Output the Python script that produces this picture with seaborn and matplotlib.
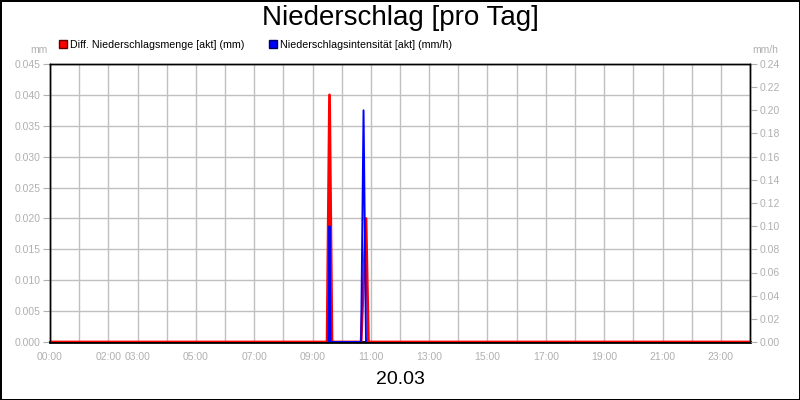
import pandas as pd
import seaborn as sns
import matplotlib
matplotlib.use("Agg")
import matplotlib.pyplot as plt
from matplotlib import font_manager
from matplotlib.lines import Line2D

# Diff. Niederschlagsmenge (mm), non-zero points plus the zeros around them
menge_times = ["00:00", "09:30", "09:35", "09:40", "10:40", "10:50", "10:55", "24:00"]
menge_vals = [0.0, 0.0, 0.040, 0.0, 0.0, 0.020, 0.0, 0.0]

# Niederschlagsintensitaet (mm/h), only around the two showers
int_times = ["09:33", "09:35", "09:37", "10:40", "10:45", "10:50"]
int_vals = [0.0, 0.10, 0.0, 0.0, 0.20, 0.0]

tick_hours = [0, 2, 3, 5, 7, 9, 11, 13, 15, 17, 19, 21, 23]
tick_labels = ["00:00", "02:00", "03:00", "05:00", "07:00", "09:00", "11:00",
               "13:00", "15:00", "17:00", "19:00", "21:00", "23:00"]
left_ticks = [0.000, 0.005, 0.010, 0.015, 0.020, 0.025, 0.030, 0.035, 0.040, 0.045]
right_ticks = [0.00, 0.02, 0.04, 0.06, 0.08, 0.10, 0.12, 0.14, 0.16, 0.18, 0.20, 0.22, 0.24]


def to_hours(times):
    return [pd.to_timedelta(t + ":00") / pd.Timedelta(hours=1) for t in times]


menge = pd.DataFrame({"h": to_hours(menge_times), "v": menge_vals})
intens = pd.DataFrame({"h": to_hours(int_times), "v": int_vals})

sns.set_style("white")
names = {f.name for f in font_manager.fontManager.ttflist}
narrow = "Liberation Sans Narrow" if "Liberation Sans Narrow" in names else "Liberation Sans"
plt.rcParams["font.family"] = [narrow, "DejaVu Sans"]
plt.rcParams["text.color"] = "black"

grey = "#b0b0b0"
gridc = "#c0c0c0"

fig = plt.figure(figsize=(8, 4), dpi=100)
fig.patch.set_edgecolor("black")
fig.patch.set_linewidth(2)

ax = fig.add_axes([0.0625, 0.145, 0.875, 0.695])
ax2 = ax.twinx()

sns.lineplot(data=menge, x="h", y="v", ax=ax, color="#ff0000", linewidth=2.0, zorder=3)
sns.lineplot(data=intens, x="h", y="v", ax=ax2, color="#0000ff", linewidth=1.4)

ax.set_xlim(0, 24)
ax.set_ylim(0, 0.045)
ax2.set_ylim(0, 0.24)
ax.set_xticks(range(25), minor=True)
ax.set_xticks(tick_hours)
ax.set_xticklabels(tick_labels)
ax.set_yticks(left_ticks)
ax.set_yticklabels([f"{v:.3f}" for v in left_ticks])
ax2.set_yticks(right_ticks)
ax2.set_yticklabels([f"{v:.2f}" for v in right_ticks])

ax2.grid(False)
ax.grid(True, which="both", color=gridc, linewidth=1)
ax.set_axisbelow(True)
ax.tick_params(axis="x", which="both", colors=grey, length=4, labelsize=7.5, pad=3)
ax.tick_params(axis="y", colors=grey, length=5, labelsize=7.5, pad=2)
ax2.tick_params(axis="y", colors=grey, length=5, labelsize=7.5, pad=2)
ax.set_xlabel("20.03", fontsize=14, color="black", labelpad=7)
ax.set_ylabel("")
ax2.set_ylabel("")
for a in (ax, ax2):
    for s in a.spines.values():
        s.set_color("black")
        s.set_linewidth(1)
ax.spines["bottom"].set_linewidth(2)
ax.spines["bottom"].set_zorder(1)
ax2.spines["bottom"].set_visible(False)

fig.text(0.5, 0.955, "Niederschlag [pro Tag]", ha="center", va="center", fontsize=20, color="black")
fig.text(0.06, 0.875, "mm", ha="right", va="center", fontsize=7.5, color=grey)
fig.text(0.94, 0.875, "mm/h", ha="left", va="center", fontsize=7.5, color=grey)

handles = [
    Line2D([], [], marker="s", linestyle="", markersize=6, markerfacecolor="#ff0000",
           markeredgecolor="#600000", label="Diff. Niederschlagsmenge [akt] (mm)"),
    Line2D([], [], marker="s", linestyle="", markersize=6, markerfacecolor="#0000ff",
           markeredgecolor="#000060", label="Niederschlagsintensität [akt] (mm/h)"),
]
fig.legend(handles=handles, loc="center left", bbox_to_anchor=(0.072, 0.888), ncol=2,
           frameon=False, fontsize=7.7, handletextpad=0.15, columnspacing=2.2,
           handlelength=1.0, borderaxespad=0, borderpad=0, labelcolor="black")

fig.savefig("out.png", dpi=100, edgecolor=fig.get_edgecolor())
